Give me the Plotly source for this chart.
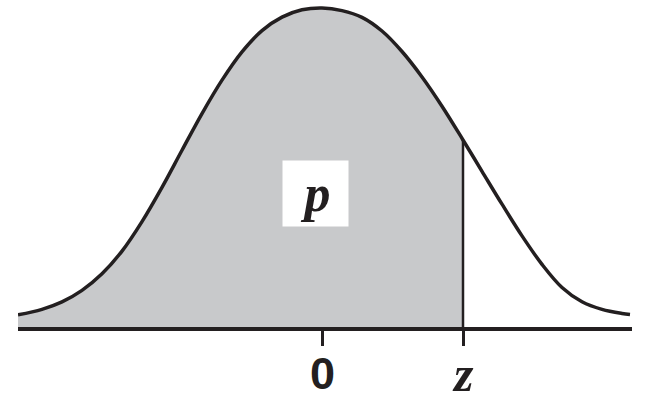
import plotly.graph_objects as go

# Curve (x in SD units, y as density)
curve_x = [-3.04, -2.8, -2.6, -2.4, -2.2, -2.0, -1.8, -1.6, -1.4, -1.2, -1.0, -0.8, -0.6, -0.4, -0.2,
           0.0, 0.2, 0.4, 0.6, 0.8, 1.0, 1.2, 1.41, 1.6, 1.8, 2.0, 2.2, 2.4, 2.6, 2.8, 3.0, 3.08]
curve_y = [0.0152, 0.0221, 0.0314, 0.0458, 0.0665, 0.0949, 0.1318, 0.1746, 0.2209, 0.2668, 0.3086,
           0.3440, 0.3705, 0.3873, 0.3965, 0.3988, 0.3955, 0.3871, 0.3700, 0.3444, 0.3126, 0.2760,
           0.2338, 0.1946, 0.1535, 0.1139, 0.0783, 0.0494, 0.0315, 0.0220, 0.0169, 0.0156]
z_value = 1.41
tick_values = [0, z_value]
tick_labels = ["0", "z"]
area_label = "p"
x_range = [-3.04, 3.10]
y_range = [0, 0.40875]

INK = "#231f20"
GRAY = "#c8c9cb"
SERIF = "'Liberation Serif', 'Times New Roman', serif"
SANS = "'Liberation Sans', Arial, sans-serif"

# shaded part: points up to z
fill_x = [x for x in curve_x if x <= z_value]
fill_y = [y for x, y in zip(curve_x, curve_y) if x <= z_value]
z_height = curve_y[curve_x.index(z_value)]

fig = go.Figure()
fig.add_trace(go.Scatter(x=fill_x, y=fill_y, mode="lines", fill="tozeroy",
                         fillcolor=GRAY, line=dict(width=0, shape="spline", smoothing=1),
                         hoverinfo="skip", showlegend=False))
fig.add_trace(go.Scatter(x=[z_value, z_value], y=[0, z_height], mode="lines",
                         line=dict(color=INK, width=2.5), showlegend=False, cliponaxis=False))
fig.add_trace(go.Scatter(x=curve_x, y=curve_y, mode="lines",
                         line=dict(color=INK, width=3.5, shape="spline", smoothing=1),
                         showlegend=False, cliponaxis=False))

fig.update_layout(
    width=646, height=401,
    margin=dict(l=18, r=14, t=0, b=74),
    paper_bgcolor="white", plot_bgcolor="white",
    xaxis=dict(range=x_range, showgrid=False, zeroline=False, showline=True,
               linecolor=INK, linewidth=4, ticks="outside", tickvals=tick_values,
               ticklen=15, tickwidth=2.5, tickcolor=INK, showticklabels=False,
               fixedrange=True),
    yaxis=dict(range=y_range, visible=False, fixedrange=True),
    annotations=[
        dict(x=tick_values[0], y=-0.1437, xref="x", yref="paper", text="<b>" + tick_labels[0] + "</b>",
             showarrow=False, font=dict(family=SANS, size=45, color=INK),
             xanchor="center", yanchor="middle"),
        dict(x=tick_values[1], y=-0.1437, xref="x", yref="paper", text="<b><i>" + tick_labels[1] + "</i></b>",
             showarrow=False, font=dict(family=SERIF, size=50, color=INK),
             xanchor="center", yanchor="middle"),
        dict(x=-0.065, y=0.1669, xref="x", yref="y", text="<b><i>" + area_label + "</i></b>",
             showarrow=False, font=dict(family=SERIF, size=52, color=INK),
             bgcolor="white", width=65, height=65, borderpad=0,
             xanchor="center", yanchor="middle"),
    ],
)

fig.write_html("out.html", post_script="document.body.style.margin='0';",
               config={"displayModeBar": False})
